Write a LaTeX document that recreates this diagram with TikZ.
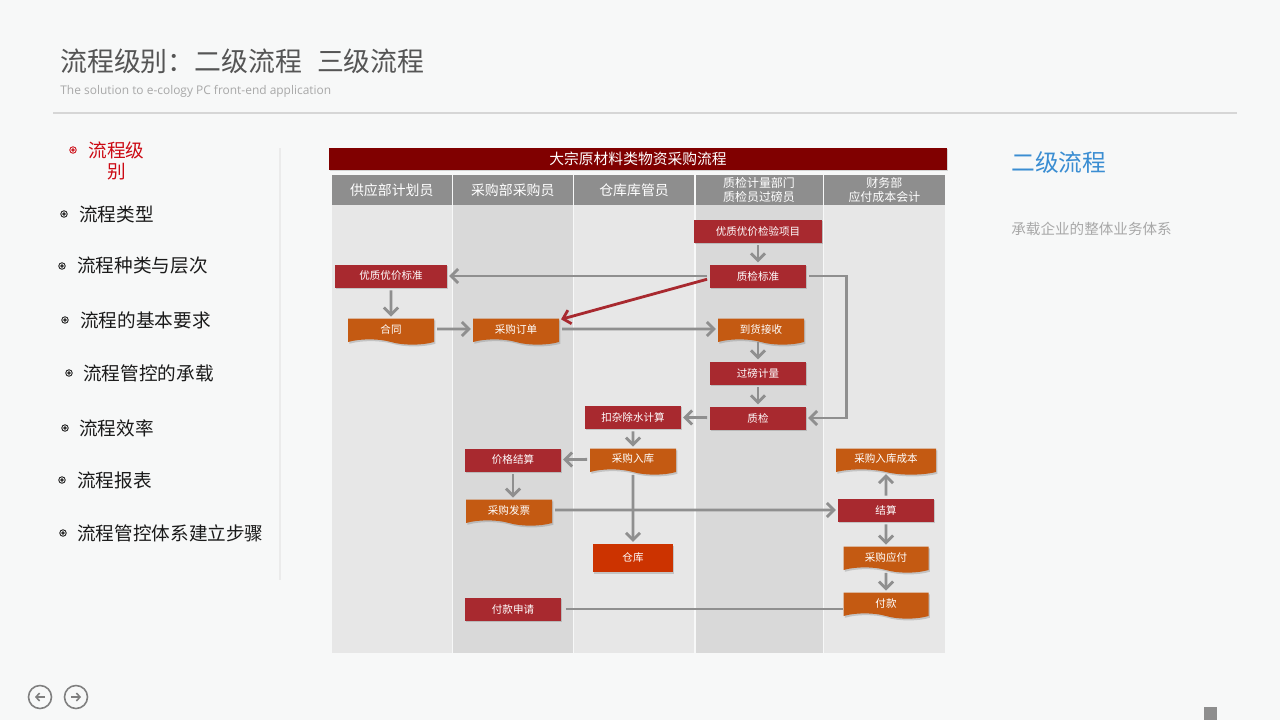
\documentclass[tikz,border=0pt]{standalone}
\usepackage{fontspec}
\setmainfont{Open Sans}
\newfontfamily\cjk{Noto Sans CJK SC}
\usetikzlibrary{arrows.meta, positioning, shapes.symbols, shadows, calc}
\definecolor{cbg}{HTML}{F7F8F8}
\definecolor{ctitle}{HTML}{555555}
\definecolor{csub}{HTML}{A8A8A8}
\definecolor{cline}{HTML}{D6D6D6}
\definecolor{cdiv}{HTML}{EBEBEB}
\definecolor{cbar}{HTML}{800000}
\definecolor{chead}{HTML}{8E8E8E}
\definecolor{clane}{HTML}{E7E7E7}
\definecolor{clanedk}{HTML}{D9D9D9}
\definecolor{cred}{HTML}{A8292F}
\definecolor{corange}{HTML}{C45A12}
\definecolor{cdeep}{HTML}{CC3300}
\definecolor{clink}{HTML}{8F8F8F}
\definecolor{cblue}{HTML}{3A8DD2}
\definecolor{cmenu}{HTML}{1A1A1A}
\definecolor{cmenured}{HTML}{CC0A14}
\definecolor{cnav}{HTML}{7F7F7F}
\tikzset{
  bar/.style={fill=cbar, text=white, font=\cjk\fontsize{8.4}{10}\selectfont, inner sep=0pt,
    minimum width=12.36cm, minimum height=0.44cm,
    drop shadow={shadow xshift=0.6pt, shadow yshift=-1pt, opacity=0.3}},
  head/.style={text=white, align=center, inner sep=0pt},
  task/.style={fill=#1, text=white, font=\cjk\fontsize{6}{7}\selectfont, inner sep=0pt,
    minimum height=0.46cm, drop shadow={shadow xshift=0.8pt, shadow yshift=-1pt, opacity=0.35}},
  task/.default=cred,
  doc/.style={task=corange, tape, tape bend top=none, tape bend bottom=out and in,
    tape bend height=3pt, minimum height=0.52cm},
  wd/.style={minimum width=#1*0.02cm},
  link/.style={draw=clink, line width=1.6pt},
  arrow/.style={link, -{Straight Barb[length=4pt, width=8pt]}, shorten <=1.5pt, shorten >=1pt},
  menu/.style={anchor=west, font=\cjk\fontsize{10.6}{11.9}\selectfont, text=cmenu, inner sep=0pt},
  bullet/.style={draw=#1, line width=0.5pt},
  navbtn/.style={circle, draw=cnav, line width=0.9pt, minimum size=0.46cm, inner sep=0pt},
}

\begin{document}
\begin{tikzpicture}[x=0.02cm, y=-0.02cm]
  \fill[cbg] (0,0) rectangle (1280,720);
  \useasboundingbox (0,0) rectangle (1280,720);

  % page header
  \node[anchor=west, font=\cjk\fontsize{15.3}{18}\selectfont, text=ctitle, inner sep=0pt] (title) at (60,61)
    {流程级别：二级流程\hspace{0.55em}三级流程};
  \node[anchor=west, font=\fontsize{6.8}{8}\selectfont, text=csub, inner sep=0pt] (sub) at (60,91)
    {The solution to e-cology PC front-end application};
  \draw[cline, line width=0.8pt] (53,113) -- (1237,113);

  % left menu
  \draw[bullet=cmenured] (73,150) circle (0.065cm) (73,150) circle (0.025cm);
  \node[menu, anchor=center, align=center, text=cmenured] (m0) at (116.5,161) {流程级\\别};
  \foreach \bx/\tx/\y/\t [count=\i] in {64/79/214/流程类型, 62/77/266/流程种类与层次,
      65/80/320/流程的基本要求, 69/83/373/流程管控的承载, 65/79/428/流程效率,
      62/77/480/流程报表, 63/77/533/流程管控体系建立步骤}{
    \draw[bullet=cmenu] (\bx,\y) circle (0.065cm) (\bx,\y) circle (0.025cm);
    \node[menu] (m\i) at (\tx,\y) {\t};
  }
  \draw[cdiv, line width=1.2pt] (280,148) -- (280,580);

  % right panel
  \node[anchor=west, font=\cjk\fontsize{13.5}{16}\selectfont, text=cblue, inner sep=0pt] (lvl) at (1011,162) {二级流程};
  \node[anchor=west, font=\cjk\fontsize{8.3}{10}\selectfont, text=csub, inner sep=0pt] (desc) at (1011,229) {承载企业的整体业务体系};

  % swimlanes
  \node[bar] (bar) at (638,158.5) {大宗原材料类物资采购流程};
  \foreach \xa/\xb/\c/\s/\t [count=\i] in {332/451.5/clane/7.9/供应部计划员,
      453/572.5/clanedk/7.9/采购部采购员, 573.8/694.3/clane/7.9/仓库库管员,
      695.5/822.5/clanedk/6.8/{质检计量部门\\质检员过磅员},
      823.7/945/clane/6.8/{财务部\\应付成本会计}}{
    \fill[chead] (\xa,175) rectangle (\xb,204.5);
    \fill[\c] (\xa,204.5) rectangle (\xb,653);
    \node[head, font=\cjk\fontsize{\s}{8.2}\selectfont] (h\i) at ({(\xa+\xb)/2},190) {\t};
  }

  % 质检计量部门
  \node[task, wd=128] (jyxm) at (758,231) {优质优价检验项目};
  \node[task, wd=96] (zjbz) at (758,276) {质检标准};
  \node[doc, wd=86] (dhjs) at (761,329) {到货接收};
  \node[task, wd=96] (gbjl) at (758,373) {过磅计量};
  \node[task, wd=96] (zj) at (758,418) {质检};
  % 供应部
  \node[task, wd=112] (yzbz) at (391,276) {优质优价标准};
  \node[doc, wd=86] (ht) at (391,329) {合同};
  % 采购部
  \node[doc, wd=86] (cgdd) at (516,329) {采购订单};
  \node[task, wd=96] (jgjs) at (513,460) {价格结算};
  \node[doc, wd=86] (cgfp) at (509,510) {采购发票};
  \node[task, wd=96] (fksq) at (513,609) {付款申请};
  % 仓库
  \node[task, wd=96] (kzcs) at (633,417) {扣杂除水计算};
  \node[doc, wd=86] (cgrk) at (633,459) {采购入库};
  \node[task=cdeep, wd=80, minimum height=0.56cm] (ck) at (633,558) {仓库};
  % 财务部
  \node[doc, wd=100] (rkcb) at (886,459) {采购入库成本};
  \node[task, wd=96] (js) at (886,510) {结算};
  \node[doc, wd=85] (cgyf) at (886,557) {采购应付};
  \node[doc, wd=85] (fk) at (886,603) {付款};

  % connectors
  \draw[arrow] (jyxm) -- (zjbz);
  \draw[arrow] (zjbz) -- (yzbz);
  \draw[arrow, draw=cred] (zjbz.183) -- (cgdd.12);
  \draw[arrow] (zjbz.east) -- ++(40,0) |- (zj.east);
  \draw[arrow] (yzbz) -- (ht);
  \draw[arrow] (ht) -- (cgdd);
  \draw[arrow] (cgdd) -- (dhjs);
  \draw[arrow] (dhjs.south -| gbjl.north) -- (gbjl.north);
  \draw[arrow] (gbjl) -- (zj);
  \draw[arrow] (zj) -- (kzcs);
  \draw[arrow] (kzcs) -- (cgrk);
  \draw[arrow] (cgrk) -- (jgjs);
  \draw[arrow] (cgrk) -- (ck);
  \draw[arrow] (jgjs) -- (jgjs |- cgfp.north);
  \draw[arrow] (cgfp) -- (js);
  \draw[arrow] (js) -- (rkcb);
  \draw[arrow] (js) -- (cgyf);
  \draw[arrow] (cgyf) -- (fk);
  \draw[link] ([xshift=2.5pt]fksq.east) -- (fksq.east -| fk.west);

  % footer
  \node[navbtn] (prev) at (40,697) {};
  \node[navbtn] (next) at (76,697) {};
  \draw[cnav, line width=0.9pt, -{Straight Barb[length=2pt, width=4.5pt]}] ($(prev)+(5,0)$) -- ($(prev)+(-5,0)$);
  \draw[cnav, line width=0.9pt, -{Straight Barb[length=2pt, width=4.5pt]}] ($(next)+(-5,0)$) -- ($(next)+(5,0)$);
  \fill[chead] (1204,707) rectangle (1217,720);
\end{tikzpicture}
\end{document}
